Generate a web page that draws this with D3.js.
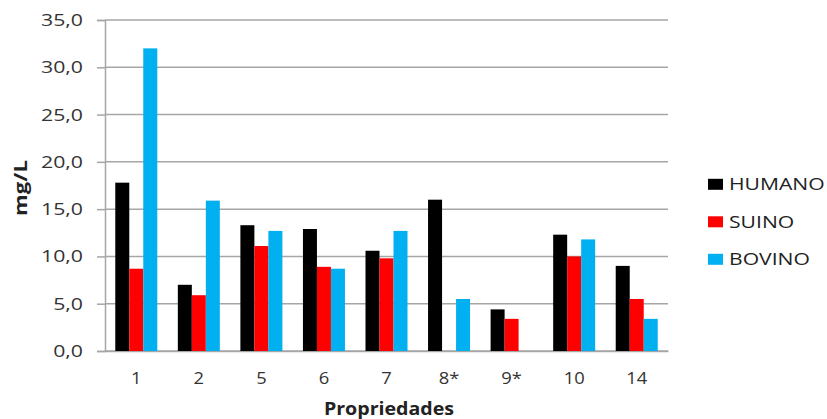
<!DOCTYPE html>
<html><head><meta charset="utf-8">
<script src="https://cdn.jsdelivr.net/npm/d3@7"></script>
<style>body{margin:0;background:#fff}svg{display:block}text{font-family:"Open Sans",sans-serif}</style>
</head><body>
<svg id="c" width="827" height="419"></svg>
<script>
const categories = ["1","2","5","6","7","8*","9*","10","14"];
const seriesNames = ["HUMANO","SUINO","BOVINO"];
const humano = [17.8, 7.0, 13.3, 12.9, 10.6, 16.0, 4.4, 12.3, 9.0];
const suino  = [8.7, 5.9, 11.1, 8.9, 9.8, 0, 3.4, 10.0, 5.5];
const bovino = [32.0, 15.9, 12.7, 8.7, 12.7, 5.5, 0, 11.8, 3.4];
const yTicks = [0,5,10,15,20,25,30,35];
const colors = ["#000000","#FF0000","#00B0F0"];

const svg = d3.select("#c");
const mLeft = 105, mRight = 668, mTop = 20, mBottom = 351;
const x = d3.scaleBand().domain(categories).range([mLeft, mRight]);
const y = d3.scaleLinear().domain([0,35]).range([mBottom, mTop]);
const fmt = v => d3.format(".1f")(v).replace(".", ",");

// widen text horizontally (reference is stretched)
function stretch(sel, f) {
  sel.each(function() {
    const w = this.getComputedTextLength();
    d3.select(this).attr("textLength", w * f).attr("lengthAdjust", "spacingAndGlyphs");
  });
}

// gridlines
svg.append("g").selectAll("line").data(yTicks).join("line")
  .attr("x1", mLeft).attr("x2", mRight)
  .attr("y1", d => y(d)).attr("y2", d => y(d))
  .attr("stroke", "#A6A6A6").attr("stroke-width", 1.5);

// y axis
const yAxis = svg.append("g").attr("transform", `translate(${mLeft},0)`)
  .call(d3.axisLeft(y).tickValues(yTicks).tickFormat(fmt).tickSize(8).tickPadding(14));
yAxis.select(".domain").attr("stroke", "#A6A6A6").attr("stroke-width", 1.5);
yAxis.selectAll(".tick line").attr("stroke", "#A6A6A6").attr("stroke-width", 1.5);
yAxis.selectAll("text").attr("font-size", 17).attr("fill", "#333");
stretch(yAxis.selectAll("text"), 1.25);

// x axis
const xAxis = svg.append("g").attr("transform", `translate(0,${mBottom})`)
  .call(d3.axisBottom(x).tickSize(0).tickPadding(21));
xAxis.select(".domain").attr("stroke", "#A6A6A6").attr("stroke-width", 1.5);
xAxis.selectAll("text").attr("font-size", 17).attr("fill", "#333");
stretch(xAxis.selectAll("text"), 1.08);

// bars
const data = [humano, suino, bovino];
const x1 = d3.scaleBand().domain(seriesNames).range([-21, 21]);
seriesNames.forEach((s, i) => {
  svg.append("g").selectAll("rect").data(categories).join("rect")
    .attr("x", c => x(c) + x.bandwidth()/2 + x1(s))
    .attr("width", x1.bandwidth())
    .attr("y", (c, j) => y(data[i][j]))
    .attr("height", (c, j) => mBottom - y(data[i][j]))
    .attr("fill", colors[i]);
});

// axis titles
const xt = svg.append("text").attr("x", 389).attr("y", 415).attr("text-anchor", "middle")
  .attr("font-size", 17.5).attr("font-weight", "bold").attr("fill", "#222").text("Propriedades");
stretch(xt, 1.12);
const yt = svg.append("text").attr("transform", `translate(27,188) rotate(-90)`)
  .attr("text-anchor", "middle").attr("font-size", 17).attr("font-weight", "bold").attr("fill", "#222").text("mg/L");
stretch(yt, 1.3);

// legend
const lg = svg.append("g").selectAll("g").data(seriesNames).join("g")
  .attr("transform", (d, i) => `translate(708,${184.3 + i*37.5})`);
lg.append("rect").attr("x", 0).attr("y", -5.5).attr("width", 15).attr("height", 11).attr("fill", (d,i) => colors[i]);
const lt = lg.append("text").attr("x", 21).attr("y", 0).attr("dy", "0.36em").attr("font-size", 16.5).attr("fill", "#222").text(d => d);
stretch(lt, 1.28);
</script>
</body></html>
